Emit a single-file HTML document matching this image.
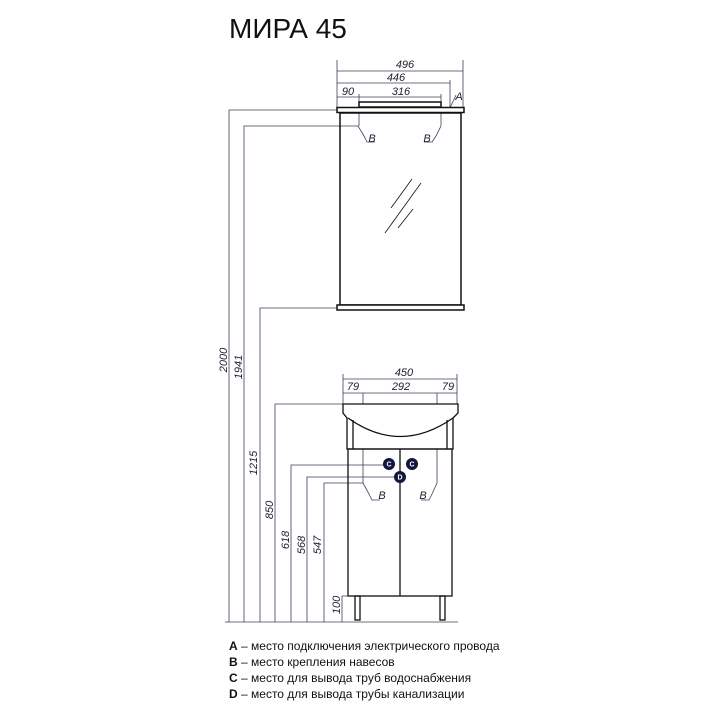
<!DOCTYPE html>
<html><head><meta charset="utf-8"><style>
html,body{margin:0;padding:0;background:#fff;}
svg{display:block;}
.d{font-family:"Liberation Sans Narrow","Liberation Sans",sans-serif;font-style:italic;font-size:11px;fill:#223;}
.lg{font-family:"Liberation Sans",sans-serif;font-size:12px;fill:#111;}
</style></head><body>
<svg width="720" height="720" viewBox="0 0 720 720" xmlns="http://www.w3.org/2000/svg">
<text x="229" y="38" font-family="Liberation Sans,sans-serif" font-size="28" fill="#111">МИРА 45</text>

<g stroke="#3a3f5a" stroke-width="0.8" fill="none">
<line x1="337" y1="60" x2="337" y2="108"/><line x1="463" y1="60" x2="463" y2="108"/>
<line x1="337" y1="71" x2="463" y2="71"/>
<line x1="450" y1="80" x2="450" y2="108"/>
<line x1="337" y1="83" x2="450" y2="83"/>
<line x1="337" y1="97" x2="441" y2="97"/>
<line x1="359" y1="94" x2="359" y2="126"/><line x1="441" y1="94" x2="441" y2="126"/>
<line x1="450" y1="108" x2="456" y2="95"/>
<polyline points="358,126 364,136 367,142 375,142"/>
<polyline points="441,126 436,136 432,142 424,142"/>
<polyline points="337,110 229,110 229,622"/>
<polyline points="358,126 244,126 244,622"/>
<polyline points="337,308 260,308 260,622"/>
<polyline points="343,404 275,404 275,622"/>
<polyline points="385,465 291,465 291,622"/>
<polyline points="396,477 307,477 307,622"/>
<polyline points="363,393 363,483 324,483 324,622"/>
<polyline points="348,596 342,596 342,622"/>
<line x1="225" y1="622" x2="458" y2="622"/>
<line x1="343" y1="374" x2="343" y2="404"/><line x1="457" y1="374" x2="457" y2="404"/>
<line x1="343" y1="379" x2="457" y2="379"/>
<line x1="343" y1="393" x2="457" y2="393"/>
<line x1="437" y1="393" x2="437" y2="483"/>
<polyline points="363,483 369,494 372,500 380,500"/>
<polyline points="437,483 432,494 429,500 421,500"/>
</g>

<g stroke="#111" fill="none">
<rect x="359" y="102" width="82" height="5" stroke-width="1.5"/>
<rect x="337" y="107.5" width="127" height="5" stroke-width="1.5" fill="#fff"/>
<rect x="340" y="113" width="121" height="192" stroke-width="1.5"/>
<rect x="337" y="305" width="127" height="5" stroke-width="1.5" fill="#fff"/>
<g stroke-width="0.8"><line x1="391" y1="208" x2="412" y2="179"/><line x1="385" y1="233" x2="421" y2="183"/><line x1="398" y1="228" x2="413" y2="209"/></g>
</g>

<g stroke="#111" fill="none" stroke-width="1.3">
<path d="M343,404 H458 V413 L453,418 V449 H347 V418 L343,413 Z" fill="#fff"/>
<path d="M348,418 Q400,455 453,418"/>
<line x1="353" y1="420" x2="353" y2="449"/><line x1="447" y1="420" x2="447" y2="449"/>
<rect x="348" y="449" width="104" height="147"/>
<line x1="400" y1="449" x2="400" y2="596"/>
<rect x="355" y="596" width="5" height="24"/><rect x="440" y="596" width="5" height="24"/>
</g>
<g font-family="Liberation Sans,sans-serif" font-size="7" font-weight="bold" fill="#fff" text-anchor="middle">
<circle cx="389" cy="464" r="6" fill="#14163d"/><text x="389" y="466.5">C</text>
<circle cx="412" cy="464" r="6" fill="#14163d"/><text x="412" y="466.5">C</text>
<circle cx="400" cy="477" r="6" fill="#14163d"/><text x="400" y="479.5">D</text>
</g>

<g class="d" text-anchor="middle">
<text x="405" y="68">496</text>
<text x="396" y="81">446</text>
<text x="348" y="95">90</text>
<text x="401" y="95">316</text>
<text x="459" y="100">A</text>
<text x="372" y="142">B</text>
<text x="427" y="142">B</text>
<text x="404" y="376">450</text>
<text x="353" y="390">79</text>
<text x="401" y="390">292</text>
<text x="448" y="390">79</text>
<text x="382" y="499">B</text>
<text x="423" y="499">B</text>
<text transform="translate(227,360) rotate(-90)">2000</text>
<text transform="translate(242,367) rotate(-90)">1941</text>
<text transform="translate(257,463) rotate(-90)">1215</text>
<text transform="translate(273,510) rotate(-90)">850</text>
<text transform="translate(289,540) rotate(-90)">618</text>
<text transform="translate(305,545) rotate(-90)">568</text>
<text transform="translate(321,545) rotate(-90)">547</text>
<text transform="translate(340,605) rotate(-90)">100</text>
</g>

<g class="lg">
<text x="229" y="650"><tspan font-weight="bold">A</tspan> – место подключения электрического провода</text>
<text x="229" y="666"><tspan font-weight="bold">B</tspan> – место крепления навесов</text>
<text x="229" y="682"><tspan font-weight="bold">C</tspan> – место для вывода труб водоснабжения</text>
<text x="229" y="698"><tspan font-weight="bold">D</tspan> – место для вывода трубы канализации</text>
</g>
</svg>
</body></html>
